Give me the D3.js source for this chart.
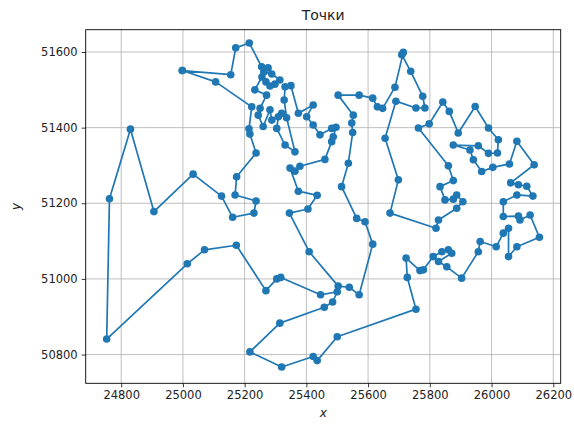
<!DOCTYPE html>
<html>
<head>
<meta charset="utf-8">
<script src="https://cdn.jsdelivr.net/npm/d3@7"></script>
<style>
  body { margin: 0; background: #fff; }
  text { font-family: "DejaVu Sans", sans-serif; }
</style>
</head>
<body>
<div class="canvas"></div>
<script>
// tour points, in visiting order (last = first to close the loop)
const pointX = [
  24998, 25106, 25223, 25214, 25217, 25237, 25174, 25169, 25237, 25230,
  25161, 25125, 25033, 24906, 24830, 24762, 24753, 25014, 25070, 25173,
  25269, 25304, 25317, 25446, 25500, 25485, 25458, 25314, 25217, 25320,
  25422, 25435, 25500, 25755, 25727, 25723, 25768, 25779, 25811, 25839,
  25860, 25871, 25828, 25855, 25903, 25957, 25963, 26015, 26038, 26055,
  26055, 26082, 26155, 26125, 26092, 26087, 26038, 26038, 26082, 26134,
  26114, 26087, 26062, 26138, 26082, 26058, 26004, 25968, 25941, 25930,
  25876, 25957, 25990, 26019, 26022, 25990, 25947, 25892, 25863, 25842,
  25798, 25763, 25860, 25876, 25833, 25849, 25876, 25887, 25907, 25887,
  25828, 25820, 25671, 25698, 25655, 25690, 25755, 25784, 25777, 25738,
  25709, 25714, 25687, 25647, 25630, 25615, 25571, 25503, 25552, 25547,
  25550, 25536, 25514, 25563, 25590, 25615, 25571, 25539, 25503, 25409,
  25345, 25405, 25435, 25374, 25347, 25363, 25379, 25460, 25482, 25487,
  25496, 25482, 25444, 25422, 25401, 25422, 25374, 25350, 25331, 25328,
  25336, 25363, 25331, 25304, 25309, 25320, 25288, 25282, 25260, 25244,
  25250, 25271, 25233, 25256, 25269, 25282, 25298, 25314, 25288, 25262,
  25276, 25255, 25215, 25171, 25155, 24998
];
const pointY = [
  51551, 51521, 51455, 51397, 51383, 51333, 51270, 51222, 51206, 51174,
  51163, 51219, 51277, 51178, 51396, 51212, 50841, 51040, 51077, 51089,
  50969, 51000, 51004, 50958, 50966, 50939, 50925, 50883, 50807, 50767,
  50795, 50784, 50847, 50920, 51004, 51055, 51022, 51024, 51059, 51072,
  51077, 51068, 51046, 51032, 51002, 51072, 51099, 51085, 51121, 51134,
  51059, 51085, 51110, 51169, 51156, 51166, 51165, 51204, 51222, 51219,
  51245, 51249, 51254, 51302, 51364, 51304, 51295, 51284, 51315, 51341,
  51354, 51352, 51332, 51333, 51368, 51399, 51456, 51386, 51443, 51468,
  51410, 51399, 51299, 51260, 51244, 51209, 51211, 51222, 51204, 51187,
  51156, 51134, 51174, 51262, 51372, 51470, 51452, 51452, 51483, 51549,
  51593, 51599, 51507, 51451, 51455, 51478, 51486, 51486, 51433, 51412,
  51387, 51306, 51244, 51160, 51151, 51092, 50958, 50978, 50981, 51072,
  51174, 51185, 51221, 51232, 51293, 51285, 51298, 51316, 51363, 51376,
  51401, 51398, 51381, 51407, 51429, 51460, 51438, 51511, 51508, 51473,
  51426, 51336, 51354, 51398, 51429, 51438, 51420, 51447, 51403, 51433,
  51451, 51486, 51500, 51534, 51521, 51510, 51515, 51526, 51542, 51547,
  51558, 51561, 51624, 51611, 51540, 51551
];
const xTicks = [24800, 25000, 25200, 25400, 25600, 25800, 26000, 26200];
const yTicks = [50800, 51000, 51200, 51400, 51600];

const points = pointX.map((x, i) => ({x: x, y: pointY[i]}));

const width = 574, height = 425;
const margin = {top: 29.7, right: 13.3, bottom: 41.7, left: 85.7};
const graphWidth = width - margin.left - margin.right;
const graphHeight = height - margin.top - margin.bottom;

const svg = d3.select('.canvas')
  .append('svg')
    .attr('width', width)
    .attr('height', height);

const graph = svg.append('g')
  .attr('transform', `translate(${margin.left}, ${margin.top})`);

const x = d3.scaleLinear()
  .domain([24685, 26224])
  .range([0, graphWidth]);

const y = d3.scaleLinear()
  .domain([50724, 51659])
  .range([graphHeight, 0]);

// grid
graph.append('g')
  .selectAll('line')
  .data(xTicks)
  .enter().append('line')
    .attr('x1', d => x(d)).attr('x2', d => x(d))
    .attr('y1', 0).attr('y2', graphHeight)
    .attr('stroke', '#b0b0b0').attr('stroke-width', 0.8);

graph.append('g')
  .selectAll('line')
  .data(yTicks)
  .enter().append('line')
    .attr('x1', 0).attr('x2', graphWidth)
    .attr('y1', d => y(d)).attr('y2', d => y(d))
    .attr('stroke', '#b0b0b0').attr('stroke-width', 0.8);

// path + markers
const line = d3.line()
  .x(d => x(d.x))
  .y(d => y(d.y));

graph.append('path')
  .datum(points)
  .attr('d', line)
  .attr('fill', 'none')
  .attr('stroke', '#1f77b4')
  .attr('stroke-width', 1.7)
  .attr('stroke-linejoin', 'round');

graph.selectAll('circle')
  .data(points)
  .enter().append('circle')
    .attr('cx', d => x(d.x))
    .attr('cy', d => y(d.y))
    .attr('r', 3.8)
    .attr('fill', '#1f77b4');

// axes
const xAxis = d3.axisBottom(x).tickValues(xTicks).tickSize(4).tickPadding(4).tickFormat(d3.format('d'));
const yAxis = d3.axisLeft(y).tickValues(yTicks).tickSize(4).tickPadding(4).tickFormat(d3.format('d'));

const xAxisGroup = graph.append('g')
  .attr('transform', `translate(0, ${graphHeight})`)
  .call(xAxis);
const yAxisGroup = graph.append('g').call(yAxis);

[xAxisGroup, yAxisGroup].forEach(g => {
  g.select('.domain').remove();
  g.selectAll('line').attr('stroke', '#000').attr('stroke-width', 0.8);
  g.selectAll('text')
    .attr('fill', '#222')
    .style('font-size', '11.5px')
    .style('font-family', '"DejaVu Sans", sans-serif');
});

// frame
graph.append('rect')
  .attr('width', graphWidth)
  .attr('height', graphHeight)
  .attr('fill', 'none')
  .attr('stroke', '#000')
  .attr('stroke-width', 0.9);

// title and labels
svg.append('text')
  .attr('x', margin.left + graphWidth / 2)
  .attr('y', 20)
  .attr('text-anchor', 'middle')
  .style('font-size', '14px')
  .attr('fill', '#222')
  .text('Точки');

svg.append('text')
  .attr('x', margin.left + graphWidth / 2)
  .attr('y', 417)
  .attr('text-anchor', 'middle')
  .style('font-size', '12px')
  .style('font-style', 'italic')
  .attr('fill', '#222')
  .text('x');

svg.append('text')
  .attr('transform', `translate(20, ${margin.top + graphHeight / 2}) rotate(-90)`)
  .attr('text-anchor', 'middle')
  .style('font-size', '12px')
  .style('font-style', 'italic')
  .attr('fill', '#222')
  .text('y');
</script>
</body>
</html>
